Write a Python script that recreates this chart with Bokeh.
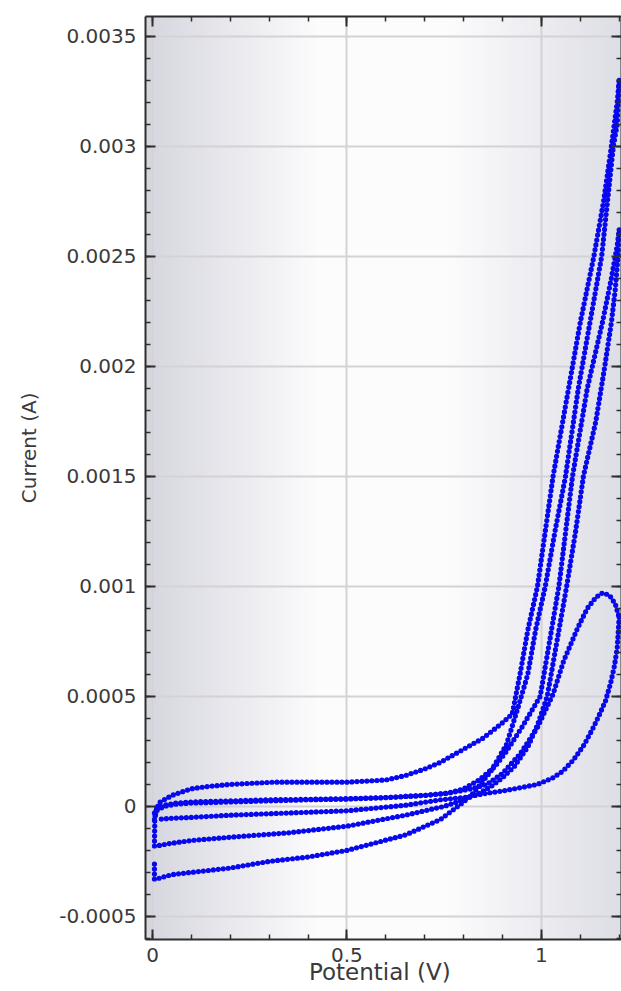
import numpy as np
from bokeh.plotting import figure
from bokeh.models import (Range1d, LinearAxis, SingleIntervalTicker,
                          CustomJSTickFormatter, Title)
from bokeh.embed import file_html
from bokeh.resources import INLINE

# ---------------- data (potential in V, current in A) ----------------
# cycle 1 (peak ~0.97 mA)
fwd1_v = [0.005, 0.01, 0.03, 0.06, 0.1, 0.2, 0.3, 0.4, 0.5, 0.6, 0.7, 0.76, 0.82, 0.86,
          0.9, 0.946, 0.99, 1.03, 1.057, 1.093, 1.118, 1.14, 1.157, 1.175, 1.19, 1.2]
fwd1_i = [-0.00003, -0.00001, 0.000005, 0.000015, 0.00002, 0.000025, 0.00003, 0.000032,
          0.000035, 0.00004, 0.00005, 0.00006, 0.00008, 0.0001, 0.00015, 0.00024, 0.00036,
          0.00051, 0.00066, 0.00081, 0.0009, 0.00095, 0.00097, 0.00096, 0.00092, 0.00086]
rev1_v = [1.2, 1.198, 1.195, 1.188, 1.178, 1.165, 1.15, 1.134, 1.11, 1.082, 1.055, 1.03,
          0.99, 0.946, 0.9, 0.86, 0.8, 0.74, 0.65, 0.5, 0.35, 0.2, 0.1, 0.04, 0.01]
rev1_i = [0.00086, 0.0008, 0.00072, 0.00064, 0.00056, 0.00048, 0.00042, 0.00036, 0.00028,
          0.00021, 0.00016, 0.00013, 0.0001, 0.000085, 0.00007, 0.00006, 0.00004, 0.00003,
          0.000005, -0.00002, -0.00003, -0.00004, -0.00005, -0.000055, -0.00006]

# cycle 2 (vertex ~2.6 mA)
fwd2_v = [0.005, 0.01, 0.03, 0.06, 0.1, 0.2, 0.3, 0.4, 0.5, 0.6, 0.7, 0.76, 0.8, 0.84,
          0.88, 0.91, 0.95, 0.997, 1.045, 1.08, 1.118, 1.157, 1.18, 1.195, 1.2]
fwd2_i = [-0.00006, -0.00002, 0.0, 0.00001, 0.000015, 0.00002, 0.000025, 0.00003,
          0.000033, 0.00004, 0.00005, 0.00006, 0.00008, 0.00012, 0.00018, 0.00025,
          0.00036, 0.0005, 0.001, 0.0015, 0.0019, 0.0022, 0.0024, 0.00255, 0.00262]
rev2_v = [1.2, 1.197, 1.19, 1.18, 1.163, 1.14, 1.108, 1.088, 1.065, 1.04, 1.015, 0.99,
          0.965, 0.93, 0.9, 0.87, 0.84, 0.8, 0.75, 0.65, 0.5, 0.35, 0.2, 0.1, 0.04, 0.01]
rev2_i = [0.00262, 0.0025, 0.00235, 0.0022, 0.002, 0.00175, 0.0015, 0.00125, 0.001,
          0.00075, 0.0005, 0.00037, 0.00027, 0.00018, 0.00013, 0.00009, 0.00006, 0.00003,
          0.0, -0.00004, -0.00009, -0.00012, -0.00014, -0.000155, -0.00017, -0.00018]

# cycle 3 (vertex ~3.3 mA)
fwd3_v = [0.005, 0.006, 0.01, 0.02, 0.05, 0.1, 0.14, 0.2, 0.31, 0.4, 0.5, 0.6, 0.65, 0.7,
          0.74, 0.8, 0.85, 0.9, 0.925, 0.945, 0.965, 0.99, 1.03, 1.07, 1.1, 1.135, 1.16,
          1.18, 1.195, 1.2]
fwd3_i = [-0.00018, -0.00005, -0.00001, 0.00002, 0.00005, 0.00008, 0.00009, 0.0001,
          0.00011, 0.00011, 0.00011, 0.00012, 0.00014, 0.00017, 0.0002, 0.00026, 0.00031,
          0.00038, 0.00042, 0.0006, 0.0008, 0.001, 0.0015, 0.0019, 0.0022, 0.0025, 0.00275,
          0.003, 0.0032, 0.0033]
rev3_v = [1.2, 1.195, 1.185, 1.17, 1.155, 1.125, 1.095, 1.062, 1.035, 1.01, 0.985, 0.965,
          0.94, 0.91, 0.87, 0.825, 0.8, 0.74, 0.65, 0.5, 0.4, 0.3, 0.2, 0.1, 0.05, 0.01]
rev3_i = [0.0033, 0.0031, 0.003, 0.00275, 0.0025, 0.0022, 0.0019, 0.0015, 0.00125, 0.001,
          0.0008, 0.0006, 0.00045, 0.00028, 0.00016, 0.00006, 0.00002, -0.00006, -0.00013,
          -0.0002, -0.00023, -0.00025, -0.00028, -0.0003, -0.00031, -0.00033]

# start of next cycle
fwd4_v = [0.005, 0.005]
fwd4_i = [-0.00033, -0.00026]

branches = [(fwd1_v, fwd1_i), (rev1_v, rev1_i), (fwd2_v, fwd2_i), (rev2_v, rev2_i),
            (fwd3_v, fwd3_i), (rev3_v, rev3_i), (fwd4_v, fwd4_i)]

x_label = "Potential  (V)"
y_label = "Current (A)"

# ---------------- layout / style ----------------
X0, X1 = -0.018, 1.206
Y0, Y1 = -0.000605, 0.00359
FONT = "DejaVu Sans"
AX = "#2e2e2e"
TXT = "#3a3a3a"
BLUE = "#0808ee"

p = figure(width=621, height=991, output_backend="svg", toolbar_location=None,
           x_range=Range1d(X0, X1), y_range=Range1d(Y0, Y1),
           x_axis_location=None, y_axis_location=None,
           min_border_left=145, min_border_right=0, min_border_top=16,
           min_border_bottom=52)
p.outline_line_color = None
p.background_fill_color = "white"
p.border_fill_color = "white"

# background gradient (decoration)
N = 480
frac = np.linspace(0, 1, N)
stops = [0.0, 0.36, 0.64, 1.0]
cols = [(214, 214, 223), (252, 252, 253), (252, 252, 253), (222, 222, 230)]
img = np.empty((1, N), dtype=np.uint32)
view = img.view(dtype=np.uint8).reshape((1, N, 4))
for k in range(3):
    view[0, :, k] = np.interp(frac, stops, [c[k] for c in cols]).astype(np.uint8)
view[0, :, 3] = 255
p.image_rgba(image=[img], x=X0, y=Y0, dw=X1 - X0, dh=Y1 - Y0, level="image")

fmt = CustomJSTickFormatter(code="return Number(tick.toPrecision(6)).toString();")


def style_axis(ax, labels=True):
    ax.axis_line_color = AX
    ax.axis_line_width = 2
    ax.major_tick_in = 10
    ax.major_tick_out = 0
    ax.minor_tick_in = 5
    ax.minor_tick_out = 0
    ax.major_tick_line_color = AX
    ax.major_tick_line_width = 2
    ax.minor_tick_line_color = AX
    ax.minor_tick_line_width = 1.5
    if labels:
        ax.major_label_text_font = FONT
        ax.major_label_text_font_size = "20px"
        ax.major_label_text_color = TXT
    else:
        ax.major_label_text_font_size = "0px"
        ax.major_label_text_color = None
        ax.major_label_standoff = 0


xt = lambda: SingleIntervalTicker(interval=0.5, num_minor_ticks=5)
yt = lambda: SingleIntervalTicker(interval=0.0005, num_minor_ticks=5)

ax_b = LinearAxis(ticker=xt(), formatter=fmt)
style_axis(ax_b)
ax_b.major_label_standoff = 8
ax_b.axis_label = x_label
ax_b.axis_label_text_font = FONT
ax_b.axis_label_text_font_size = "23px"
ax_b.axis_label_text_font_style = "normal"
ax_b.axis_label_text_color = TXT
ax_b.axis_label_standoff = -6
p.add_layout(ax_b, "below")

ax_l = LinearAxis(ticker=yt(), formatter=fmt)
style_axis(ax_l)
ax_l.major_label_standoff = 9
p.add_layout(ax_l, "left")

ax_t = LinearAxis(ticker=xt())
style_axis(ax_t, labels=False)
p.add_layout(ax_t, "above")

ax_r = LinearAxis(ticker=yt())
style_axis(ax_r, labels=False)
p.add_layout(ax_r, "right")

p.add_layout(Title(text=y_label, align="right", offset=376, standoff=29,
                   vertical_align="middle",
                   text_font=FONT, text_font_size="20px", text_font_style="normal",
                   text_color=TXT), "left")

p.xgrid.ticker = SingleIntervalTicker(interval=0.5)
p.ygrid.ticker = SingleIntervalTicker(interval=0.0005)
for g in (p.xgrid, p.ygrid):
    g.grid_line_color = "#d3d3d6"
    g.grid_line_width = 2

for xs, ys in branches:
    p.line(xs, ys, line_color=BLUE, line_width=5.2, line_dash="0 5", line_cap="round")

open("out.html", "w").write(file_html(p, INLINE))
